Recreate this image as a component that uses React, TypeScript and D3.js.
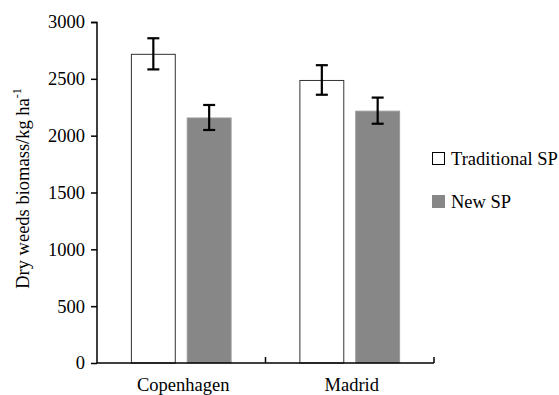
import React, { useEffect, useRef } from 'react';
import * as d3 from 'd3';

const categories = ['Copenhagen', 'Madrid'];
const seriesNames = ['Traditional SP', 'New SP'];
const traditionalValues = [2720, 2490];
const traditionalErrors = [137, 130];
const newValues = [2160, 2220];
const newErrors = [110, 115];
const yTicks = [0, 500, 1000, 1500, 2000, 2500, 3000];

const colors = ['#ffffff', '#878787'];
const strokes = ['#333333', '#9a9a9a'];

function App() {
  const svgRef = useRef<SVGSVGElement>(null);

  useEffect(() => {
    const svg = d3.select(svgRef.current);
    svg.selectAll('*').remove();

    const width = 559;
    const height = 395;
    const margin = { top: 22, right: 125, bottom: 32, left: 97 };
    const innerWidth = width - margin.left - margin.right;
    const innerHeight = height - margin.top - margin.bottom;
    const font = "'Liberation Serif', 'DejaVu Serif', Times, serif";
    const fs = '18.5px';

    svg.attr('width', width).attr('height', height).style('font-family', font);

    const g = svg.append('g').attr('transform', `translate(${margin.left},${margin.top})`);

    const x0 = d3.scaleBand().domain(categories).range([0, innerWidth]).padding(0);
    const x1 = d3
      .scaleBand()
      .domain(seriesNames)
      .range([0, x0.bandwidth()])
      .paddingInner(0.196)
      .paddingOuter(0.607);
    const y = d3.scaleLinear().domain([0, 3000]).range([innerHeight, 0]);

    const series = [
      { name: seriesNames[0], values: traditionalValues, errors: traditionalErrors },
      { name: seriesNames[1], values: newValues, errors: newErrors },
    ];

    series.forEach((s, si) => {
      g.selectAll(`.bar-${si}`)
        .data(s.values)
        .enter()
        .append('rect')
        .attr('x', (d, i) => (x0(categories[i]) as number) + (x1(s.name) as number) + 0.5)
        .attr('y', d => y(d) + 0.5)
        .attr('width', x1.bandwidth() - 1)
        .attr('height', d => innerHeight - y(d) - 0.5)
        .attr('fill', colors[si])
        .attr('stroke', strokes[si])
        .attr('stroke-width', 1);

      const cx = (i: number) => (x0(categories[i]) as number) + (x1(s.name) as number) + x1.bandwidth() / 2;
      const capW = 6;
      const eb = g.selectAll(`.err-${si}`).data(s.values).enter().append('g');
      eb.append('line')
        .attr('x1', (d, i) => cx(i))
        .attr('x2', (d, i) => cx(i))
        .attr('y1', (d, i) => y(d + s.errors[i]))
        .attr('y2', (d, i) => y(d - s.errors[i]))
        .attr('stroke', '#000')
        .attr('stroke-width', 2.2);
      [1, -1].forEach(sign => {
        eb.append('line')
          .attr('x1', (d, i) => cx(i) - capW)
          .attr('x2', (d, i) => cx(i) + capW)
          .attr('y1', (d, i) => y(d + sign * s.errors[i]))
          .attr('y2', (d, i) => y(d + sign * s.errors[i]))
          .attr('stroke', '#000')
          .attr('stroke-width', 2.2);
      });
    });

    // y axis
    const yAxis = g
      .append('g')
      .call(d3.axisLeft(y).tickValues(yTicks).tickSize(6).tickPadding(6).tickFormat(d3.format('d')));
    yAxis.select('.domain').attr('stroke', '#000').attr('stroke-width', 1.5).attr('d', `M-6,0.5H0V${innerHeight}`);
    yAxis.selectAll('.tick line').attr('stroke', '#000').attr('stroke-width', 1.5);
    yAxis.selectAll('text').style('font-family', font).style('font-size', fs).attr('fill', '#000');

    // x axis
    const xAxis = g.append('g').attr('transform', `translate(0,${innerHeight})`);
    xAxis
      .append('line')
      .attr('x1', 0)
      .attr('x2', innerWidth)
      .attr('y1', 0)
      .attr('y2', 0)
      .attr('stroke', '#000')
      .attr('stroke-width', 1.5);
    const xTickPos = categories.map(c => (x0(c) as number) + x0.bandwidth());
    xAxis
      .selectAll('.xtick')
      .data(xTickPos)
      .enter()
      .append('line')
      .attr('x1', d => d)
      .attr('x2', d => d)
      .attr('y1', 0)
      .attr('y2', -6)
      .attr('stroke', '#000')
      .attr('stroke-width', 1.5);
    xAxis
      .selectAll('.xlabel')
      .data(categories)
      .enter()
      .append('text')
      .attr('x', d => (x0(d) as number) + x0.bandwidth() / 2 + 2)
      .attr('y', 28)
      .attr('text-anchor', 'middle')
      .style('font-family', font)
      .style('font-size', fs)
      .text(d => d);

    // y title
    const title = svg
      .append('text')
      .attr('transform', `translate(29,${margin.top + innerHeight / 2 - 4}) rotate(-90)`)
      .attr('text-anchor', 'middle')
      .style('font-family', font)
      .style('font-size', fs);
    title.append('tspan').text('Dry weeds biomass/kg ha');
    title.append('tspan').attr('dy', -8).style('font-size', '12px').text('-1');

    // legend
    const legend = svg.append('g').attr('transform', 'translate(432,152)');
    seriesNames.forEach((name, i) => {
      const row = legend.append('g').attr('transform', `translate(0,${i * 43})`);
      row
        .append('rect')
        .attr('x', 0.5)
        .attr('y', 0.5)
        .attr('width', 12)
        .attr('height', 12)
        .attr('fill', colors[i])
        .attr('stroke', i === 0 ? '#000' : colors[i]);
      row
        .append('text')
        .attr('x', 19)
        .attr('y', 13)
        .style('font-family', font)
        .style('font-size', fs)
        .text(name);
    });
  }, []);

  return <svg ref={svgRef} style={{ position: 'absolute', left: 0, top: 0, background: '#fff' }}></svg>;
}

export default App;
